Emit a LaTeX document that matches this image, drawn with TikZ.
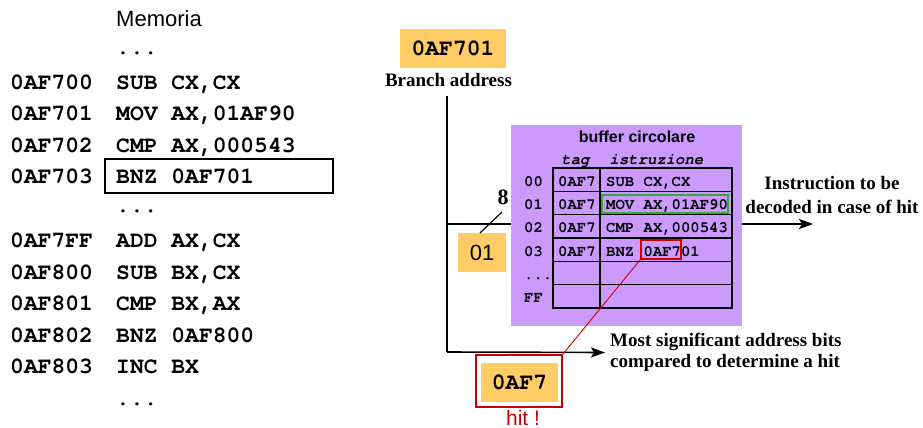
\documentclass[tikz,border=0pt]{standalone}
\usepackage{fontspec}
\setmainfont{Liberation Serif}
\setsansfont{Liberation Sans}
\setmonofont{TeX Gyre Cursor}
\usetikzlibrary{arrows.meta}
\definecolor{addrorange}{HTML}{FFCC66}
\definecolor{bufpurple}{HTML}{CC99FF}
\definecolor{hitred}{HTML}{CC0000}
\definecolor{okgreen}{HTML}{33AA33}

\begin{document}
\begin{tikzpicture}[x=1pt,y=-1pt,
  memtxt/.style={font=\fontsize{23}{23}\selectfont\ttfamily\bfseries, inner sep=0pt, anchor=base west},
  tabtxt/.style={font=\fontsize{15.6}{15.6}\selectfont\ttfamily\bfseries, inner sep=0pt, anchor=base west},
  tabhead/.style={font=\fontsize{15.6}{15.6}\selectfont\ttfamily\bfseries\itshape, inner sep=0pt, anchor=base},
  note/.style={font=\fontsize{19}{24}\selectfont\bfseries, inner sep=0pt},
  addrbox/.style={fill=addrorange, inner sep=0pt, font=\fontsize{23}{23}\selectfont\ttfamily\bfseries},
  wire/.style={line width=1.6pt},
  tip/.style={-{Stealth[length=14pt,width=10pt,inset=3pt]}},
  grid/.style={line width=1.3pt}
]
\useasboundingbox (0,0) rectangle (923,428);

% ---------- memory listing ----------
\node[font=\fontsize{22}{22}\selectfont\sffamily, inner sep=0pt, anchor=base west] (memtitle) at (116,27) {Memoria};
\node[memtxt] (dots1) at (116,55) {...};
\node[memtxt] (a0) at (10,89)  {0AF700}; \node[memtxt] (i0) at (116,89)  {SUB CX,CX};
\node[memtxt] (a1) at (10,120) {0AF701}; \node[memtxt] (i1) at (116,120) {MOV AX,01AF90};
\node[memtxt] (a2) at (10,152) {0AF702}; \node[memtxt] (i2) at (116,152) {CMP AX,000543};
\node[memtxt] (a3) at (10,183) {0AF703}; \node[memtxt] (i3) at (116,183) {BNZ 0AF701};
\draw[line width=1.4pt] (105,159) rectangle (333,193);
\node[memtxt] (dots2) at (116,212) {...};
\node[memtxt] (a4) at (10,247) {0AF7FF}; \node[memtxt] (i4) at (116,247) {ADD AX,CX};
\node[memtxt] (a5) at (10,279) {0AF800}; \node[memtxt] (i5) at (116,279) {SUB BX,CX};
\node[memtxt] (a6) at (10,310) {0AF801}; \node[memtxt] (i6) at (116,310) {CMP BX,AX};
\node[memtxt] (a7) at (10,342) {0AF802}; \node[memtxt] (i7) at (116,342) {BNZ 0AF800};
\node[memtxt] (a8) at (10,373) {0AF803}; \node[memtxt] (i8) at (116,373) {INC BX};
\node[memtxt] (dots3) at (116,405) {...};

% ---------- branch address ----------
\node[addrbox, minimum width=106pt, minimum height=39pt] (baddr) at (453,48.5) {0AF701};
\node[note] (blabel) at (448.5,80) {Branch address};

% ---------- buffer ----------
\node[fill=bufpurple, minimum width=231pt, minimum height=201pt, inner sep=0pt] (buffer) at (626.5,225.5) {};
\node[font=\fontsize{16}{16}\selectfont\sffamily\bfseries, inner sep=0pt] (btitle) at (637,137) {buffer circolare};
\node[tabhead] (htag) at (575.5,164) {tag};
\node[tabhead] (hins) at (656.5,164) {istruzione};

\draw[grid] (553,168) rectangle (732,308);
\draw[grid] (600,168) -- (600,308);
\foreach \yy in {191.33,214.67,238,261.33,284.67}
  \draw[grid] (553,\yy) -- (732,\yy);

\node[tabtxt] (r0) at (524,186.2) {00}; \node[tabtxt] (t0) at (558,186.2) {0AF7}; \node[tabtxt] (s0) at (606,186.2) {SUB CX,CX};
\node[tabtxt] (r1) at (524,209.5) {01}; \node[tabtxt] (t1) at (558,209.5) {0AF7}; \node[tabtxt] (s1) at (606,209.5) {MOV AX,01AF90};
\node[tabtxt] (r2) at (524,232.8) {02}; \node[tabtxt] (t2) at (558,232.8) {0AF7}; \node[tabtxt] (s2) at (606,232.8) {CMP AX,000543};
\node[tabtxt] (r3) at (524,256.2) {03}; \node[tabtxt] (t3) at (558,256.2) {0AF7}; \node[tabtxt] (s3) at (606,256.2) {BNZ 0AF701};
\node[tabtxt] (r4) at (524,279.5) {...};
\node[tabtxt] (r5) at (524,302.8) {FF};

\draw[okgreen, line width=1.5pt] (602,195) rectangle (728,213);
\node[draw=hitred, line width=1.5pt, minimum width=40pt, minimum height=19pt, inner sep=0pt] (tagbox) at (661,249.5) {};

% ---------- index and branch wiring ----------
\node[fill=addrorange, minimum width=48pt, minimum height=39pt, inner sep=0pt,
      font=\fontsize{22}{22}\selectfont\sffamily] (idx) at (482,252.5) {01};
\node[note, font=\fontsize{22}{22}\selectfont\bfseries] (eight) at (503,197) {8};
\draw[line width=1.2pt] (480,233) -- (502,212);

\coordinate (top) at (447,96);
\coordinate (tee) at (447,224);
\coordinate (corner) at (447,352);
\coordinate (outend) at (813,224);

\node[note, align=left, anchor=west, inner xsep=5pt, font=\fontsize{19}{21}\selectfont\bfseries] (msb) at (605,352.5)
  {Most significant address bits\\compared to determine a hit};
\node[note, align=center] (decoded) at (832,195) {Instruction to be\\decoded in case of hit};

\draw[wire] (top) -- (corner);
\draw[wire, tip] (corner) -- (msb.west);
\draw[wire] (tee) -- (tee -| buffer.west);
\draw[wire, tip] (tee -| buffer.east) -- (outend);

% ---------- hit ----------
\node[draw=hitred, line width=1.5pt, minimum width=86pt, minimum height=52pt, inner sep=0pt] (hitbox) at (519,381) {};
\node[addrbox, minimum width=77pt, minimum height=39pt] (hittag) at (519.5,382.5) {0AF7};
\node[font=\fontsize{21}{21}\selectfont\sffamily, text=hitred, inner sep=0pt, anchor=base] (hitlabel) at (523,425) {hit !};
\draw[hitred, line width=0.9pt] (tagbox.south west) -- (hitbox.north east);

\end{tikzpicture}
\end{document}
